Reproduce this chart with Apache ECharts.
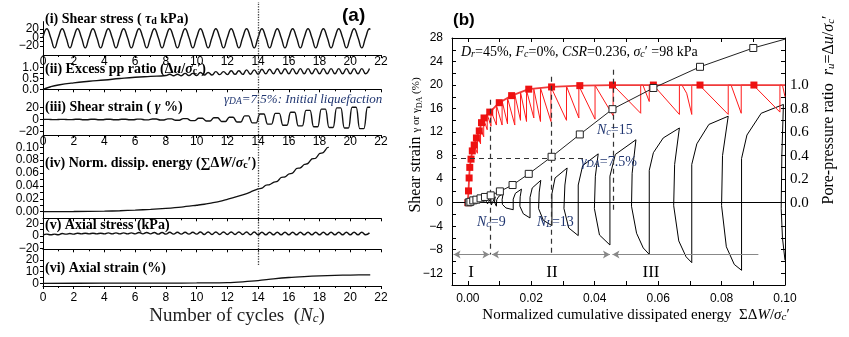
<!DOCTYPE html>
<html>
<head>
<meta charset="utf-8">
<script src="https://cdn.jsdelivr.net/npm/echarts@6/dist/echarts.min.js"></script>
<style>
html,body{margin:0;padding:0;background:#fff}
#chart{width:849px;height:337px}
</style>
</head>
<body>
<div id="chart"></div>
<script>
// ---------- (a) time histories ----------
var tauPeak = [21,21,21,21,21,21,21,21,21,21,21,21,21,21,21,21,21,21,21,21,21,21];
var tauTrough = [-25,-25,-25,-25,-25,-25,-25,-25,-25,-25,-25,-25,-25,-25,-25,-25,-25,-25,-25,-25,-25];

var ppBaseN = [0,0.5,1,2,3,4,5,6,7,8];
var ppBaseV = [0,0.12,0.2,0.3,0.37,0.43,0.5,0.56,0.6,0.64];
var ppUpper = [0.70,0.74,0.78,0.82,0.86,0.90,0.93,0.95,0.96,0.96,0.96,0.96,0.96]; // cycles 8..20
var ppLower = [0.63,0.64,0.66,0.68,0.69,0.70,0.72,0.72,0.72,0.72,0.72,0.72,0.72];

var gamPos = [0.2,0.2,0.3,0.3,0.4,0.5,0.6,0.8,1.0,1.5,2.0,2.8,3.8,6.0,9.0,10,12,15,17,19,20,20];
var gamNeg = [-0.2,-0.2,-0.3,-0.3,-0.4,-0.5,-0.6,-0.8,-1.2,-1.8,-2.5,-3.2,-4.2,-5.5,-7.5,-9.5,-10.5,-12,-13,-14,-15];

var energyN = [0,2,4,5,6,7,8,9,10,10.5,11,11.5,12,12.5,13,13.5,14,14.25,14.5,14.75,15,15.25,15.5,15.75,16,16.25,16.5,16.75,17,17.25,17.5,17.75,18,18.25,18.5,18.6];
var energyV = [0,0.0003,0.0008,0.0014,0.0024,0.0036,0.0052,0.0072,0.0100,0.0115,0.0138,0.0160,0.0192,0.0225,0.0262,0.0305,0.0355,0.0365,0.0410,0.0420,0.0456,0.0470,0.0530,0.0540,0.0585,0.0600,0.0670,0.0680,0.0732,0.0750,0.0820,0.0830,0.0902,0.0920,0.0995,0.1000];

var saUpper = [3,4,4.5,4.5,5,5,5.5,5.5,6,6,6.5,6.5,6.5,6.5,6,6,6,6,6,6,6];
var saLower = [2,3,3.5,3.5,3.5,3.5,3.5,3,3,3,2.5,2.5,2.5,2,2,2,2,2,2,2,2];

var axN = [0,4,8,10,11,12,13,14,15,16,17,18,19,20,21.3];
var axV = [0,0.1,0.2,0.3,0.4,0.6,1.3,2.3,3.8,5.0,5.8,6.4,6.8,7.1,7.3];

// ---------- (b) energy-based plot ----------
var ruSqE = [0,0.0002,0.0004,0.0006,0.0010,0.0014,0.0020,0.0027,0.0036,0.0043,0.0051,0.0069,0.0099,0.0138,0.0192,0.0264,0.0353,0.0456,0.0585,0.0732,0.0902];
var ruSqV = [0,0.10,0.21,0.30,0.37,0.44,0.49,0.55,0.61,0.68,0.72,0.77,0.85,0.91,0.965,0.984,0.995,1.0,1.0,1.0,1.0];

var gdaE = [0.0003,0.0008,0.0017,0.0027,0.0040,0.0054,0.0072,0.0101,0.0141,0.0192,0.0264,0.0353,0.0456,0.0585,0.0732,0.0900];
var gdaV = [0.05,0.15,0.39,0.51,0.73,0.97,1.24,1.92,3.0,4.9,7.8,11.6,15.9,19.5,23.1,26.3];

var ruSaw = [
  [0.0020,0.49],[0.0030,0.42],[0.0030,0.57],[0.0040,0.50],[0.0040,0.63],[0.0050,0.56],[0.0050,0.71],
  [0.0061,0.62],[0.0061,0.75],[0.0073,0.65],[0.0073,0.78],[0.0090,0.66],[0.0090,0.83],[0.0108,0.66],
  [0.0108,0.865],[0.0125,0.67],[0.0125,0.89],[0.0148,0.66],[0.0148,0.92],[0.0166,0.70],[0.0166,0.94],
  [0.0185,0.69],[0.0185,0.955],[0.0208,0.72],[0.0208,0.965],[0.0229,0.69],[0.0229,0.975],[0.0262,0.69],
  [0.0262,0.984],[0.0311,0.70],[0.0311,0.99],[0.0350,0.72],[0.0350,0.994],[0.0401,0.71],[0.0401,0.997],
  [0.0458,0.74],[0.0458,1.0],[0.0545,0.76],[0.0545,1.0],[0.0552,1.0],[0.0572,0.86],[0.0572,1.0],
  [0.0585,1.0],[0.0667,0.75],[0.0667,1.0],[0.0675,1.0],[0.0690,0.93],[0.0706,0.75],[0.0706,1.0],
  [0.0730,1.0],[0.0821,0.75],[0.0821,1.0],[0.0830,1.0],[0.0862,0.76],[0.0862,1.0],[0.0900,1.0],
  [0.0984,0.77],[0.0984,1.0],[0.0992,1.0],[0.1000,0.90]
];

var gammaLoop = [
  [0.0000,0.00],[0.0010,0.05],[0.0020,0.10],[0.0030,-0.05],[0.0040,0.20],[0.0046,-0.10],[0.0056,0.40],
  [0.0062,-0.20],[0.0072,0.70],[0.0074,-0.40],[0.0086,1.00],[0.0084,0.10],[0.0090,-0.60],
  [0.0091,0.50],[0.0098,1.10],[0.0111,1.50],
  [0.0108,0.50],[0.0109,-0.30],[0.0120,-0.90],[0.0143,-1.20],
  [0.0143,0.60],[0.0150,1.60],[0.0169,2.30],
  [0.0165,1.00],[0.0164,-0.60],[0.0175,-1.90],[0.0196,-2.60],
  [0.0196,0.90],[0.0203,2.50],[0.0230,3.80],
  [0.0225,1.80],[0.0223,-1.00],[0.0238,-3.00],[0.0265,-3.90],
  [0.0265,1.50],[0.0275,4.20],[0.0313,5.90],
  [0.0306,3.00],[0.0303,-1.00],[0.0318,-4.30],[0.0348,-5.60],
  [0.0348,3.00],[0.0362,6.30],[0.0411,8.30],
  [0.0402,4.50],[0.0399,-1.00],[0.0415,-5.50],[0.0448,-7.20],
  [0.0448,4.50],[0.0465,8.20],[0.0530,10.70],
  [0.0518,5.00],[0.0516,-0.60],[0.0532,-5.20],[0.0553,-7.70],[0.0572,-8.80],
  [0.0572,5.50],[0.0585,8.50],[0.0616,11.00],[0.0667,12.70],
  [0.0652,6.50],[0.0649,-0.50],[0.0665,-6.50],[0.0688,-9.20],[0.0706,-10.20],
  [0.0706,6.50],[0.0722,10.00],[0.0760,13.30],[0.0821,14.70],
  [0.0803,8.00],[0.0800,-0.50],[0.0815,-7.50],[0.0840,-10.50],[0.0863,-11.50],
  [0.0863,7.50],[0.0880,11.50],[0.0925,15.20],[0.0995,16.70],
  [0.0990,8.00],[0.0988,-1.00],[0.0992,-6.00],[0.1000,-9.80]
];

var SERIF = '"Liberation Serif","DejaVu Serif",serif';
var SANS = '"Liberation Sans",Arial,sans-serif';
var NAVY = '#1f3570';

// build point lists from the readings
var tauData = [];
for (var k = 0; k < tauTrough.length; k++) {
  tauData.push([k, 0], [k + 0.25, tauPeak[k]], [k + 0.5, 0], [k + 0.75, tauTrough[k]]);
}
tauData.push([21, 0], [21.25, tauPeak[21]], [21.3, 19]);

var ppData = ppBaseN.map(function (n, i) { return [n, ppBaseV[i]]; });
for (var k = 0; k < ppUpper.length; k++) {
  var c = 8 + k;
  ppData.push([c + 0.25, ppUpper[k]], [c + 0.5, ppLower[k]], [c + 0.75, ppUpper[k]], [c + 1, ppLower[k]]);
}
ppData.push([21.25, 0.96]);

var gamData = [[0, 0]];
for (var k = 0; k < gamNeg.length; k++) {
  gamData.push([k + 0.12, gamPos[k]], [k + 0.38, gamPos[k]], [k + 0.62, gamNeg[k]], [k + 0.88, gamNeg[k]]);
}
gamData.push([21.12, gamPos[21]], [21.3, gamPos[21]]);

var enData = energyN.map(function (n, i) { return [n, energyV[i]]; });

var saData = [[0, 1.5]];
for (var k = 0; k < saUpper.length; k++) {
  saData.push([k + 0.25, saUpper[k]], [k + 0.5, saLower[k]], [k + 0.75, saUpper[k]], [k + 1, saLower[k]]);
}
saData.push([21.25, 5]);

var axData = axN.map(function (n, i) { return [n, axV[i]]; });

var ruSqData = ruSqE.map(function (e, i) { return [e, ruSqV[i]]; });
ruSqData.push({ value: [0.1, 1.0], symbol: 'none' });

var gdaData = gdaE.map(function (e, i) { return [e, gdaV[i]]; });
gdaData.push({ value: [0.1, 27.8], symbol: 'none' });

function minus(v) { return String(v).replace('-', '\u2212'); }
function fix1(v) { return v.toFixed(1); }
function fix2(v) { return v.toFixed(2); }

// ---------- axes ----------
var A_LEFT = 43, A_W = 338;
function xA(g, showLabel, margin) {
  return {
    type: 'value', gridIndex: g, min: 0, max: 22, interval: 2,
    axisLine: { show: true, onZero: false, lineStyle: { color: '#000', width: 1 } },
    axisTick: { show: true, length: 3, lineStyle: { color: '#000' } },
    minorTick: { show: true, splitNumber: 2, length: 2, lineStyle: { color: '#000' } },
    splitLine: { show: false },
    axisLabel: { show: showLabel, margin: margin, fontSize: 12, fontFamily: SANS, color: '#000', showMinLabel: true, showMaxLabel: true }
  };
}
function yA(g, min, max, labels, ticks, fmt) {
  return {
    type: 'value', gridIndex: g, min: min, max: max,
    axisLine: { show: true, onZero: false, lineStyle: { color: '#000', width: 1 } },
    axisTick: { show: true, length: 3, customValues: ticks, lineStyle: { color: '#000' } },
    splitLine: { show: false },
    axisLabel: { customValues: labels, formatter: fmt, margin: 4, fontSize: 12, fontFamily: SANS, color: '#000', showMinLabel: true, showMaxLabel: true }
  };
}
// second label-only axis in the same grid, so tightly packed labels are not dropped
function yLab(g, min, max, labels, fmt) {
  return {
    type: 'value', gridIndex: g, min: min, max: max, position: 'left',
    axisLine: { show: false, onZero: false }, axisTick: { show: false }, splitLine: { show: false },
    axisLabel: { customValues: labels, formatter: fmt, margin: 4, fontSize: 12, fontFamily: SANS, color: '#000', showMinLabel: true, showMaxLabel: true }
  };
}

var grids = [
  { left: A_LEFT, width: A_W, top: 21.6, height: 33.4 },
  { left: A_LEFT, width: A_W, top: 55, height: 34.3 },
  { left: A_LEFT, width: A_W, top: 89.3, height: 45.7 },
  { left: A_LEFT, width: A_W, top: 135, height: 83.3 },
  { left: A_LEFT, width: A_W, top: 218.3, height: 31 },
  { left: A_LEFT, width: A_W, top: 249.3, height: 36.7 },
  { left: A_LEFT, width: A_W, top: 2, height: 284 },
  { left: 452, width: 333, top: 38, height: 247 }
];

var xAxes = [
  xA(0, true, 1), xA(1, false, 1), xA(2, true, 1), xA(3, false, 1), xA(4, false, 1), xA(5, true, 6),
  { type: 'value', gridIndex: 6, min: 0, max: 22, show: false },
  {
    type: 'value', gridIndex: 7, min: -0.005, max: 0.1,
    axisLine: { show: true, onZero: false, lineStyle: { color: '#000' } },
    axisTick: { show: true, inside: true, length: 4, customValues: [0,0.01,0.02,0.03,0.04,0.05,0.06,0.07,0.08,0.09,0.1], lineStyle: { color: '#000' } },
    splitLine: { show: false },
    axisLabel: { customValues: [0,0.02,0.04,0.06,0.08,0.1], formatter: fix2, margin: 8, fontSize: 12, fontFamily: SANS, color: '#000', showMinLabel: true, showMaxLabel: true }
  },
  {
    type: 'value', gridIndex: 7, min: -0.005, max: 0.1, position: 'top',
    axisLine: { show: true, onZero: false, lineStyle: { color: '#000' } },
    axisTick: { show: true, inside: true, length: 4, customValues: [0,0.01,0.02,0.03,0.04,0.05,0.06,0.07,0.08,0.09,0.1], lineStyle: { color: '#000' } },
    splitLine: { show: false }, axisLabel: { show: false }
  }
];

var yAxes = [
  yA(0, -42, 38, [-20, 20], [-20, -10, 0, 10, 20], minus),
  yA(1, 0, 1.59, [0, 1], [0, 0.25, 0.5, 0.75, 1], fix1),
  yA(2, -25.4, 49.5, [-20, 20], [-20, -10, 0, 10, 20], minus),
  yA(3, -0.0103, 0.1191, [0, 0.02, 0.04, 0.06, 0.08, 0.1], [0,0.01,0.02,0.03,0.04,0.05,0.06,0.07,0.08,0.09,0.1], fix2),
  yA(4, -20.9, 28, [-20, 20], [-20, -10, 0, 10, 20], minus),
  yA(5, -2.3, 29.2, [0, 20], [0, 5, 10, 15, 20], minus),
  { type: 'value', gridIndex: 6, min: 0, max: 1, show: false },
  {
    type: 'value', gridIndex: 7, min: -14, max: 28,
    axisLine: { show: true, onZero: false, lineStyle: { color: '#000' } },
    axisTick: { show: true, inside: true, length: 4, customValues: [-14,-12,-10,-8,-6,-4,-2,0,2,4,6,8,10,12,14,16,18,20,22,24,26,28], lineStyle: { color: '#000' } },
    splitLine: { show: false },
    axisLabel: { customValues: [-12,-8,-4,0,4,8,12,16,20,24,28], formatter: minus, margin: 9, fontSize: 12, fontFamily: SANS, color: '#000', showMinLabel: true, showMaxLabel: true }
  },
  {
    type: 'value', gridIndex: 7, min: -0.7, max: 1.4, position: 'right',
    axisLine: { show: true, onZero: false, lineStyle: { color: '#000' } },
    axisTick: { show: true, inside: true, length: 4, customValues: [-0.6,-0.5,-0.4,-0.3,-0.2,-0.1,0,0.1,0.2,0.3,0.4,0.5,0.6,0.7,0.8,0.9,1.0,1.1,1.2,1.3,1.4], lineStyle: { color: '#000' } },
    splitLine: { show: false },
    axisLabel: { customValues: [0, 0.2, 0.4, 0.6, 0.8, 1.0], formatter: fix1, margin: 5, fontSize: 15, fontFamily: SERIF, color: '#000', showMinLabel: true, showMaxLabel: true }
  },
  yLab(0, -42, 38, [0], minus),
  yLab(1, 0, 1.59, [0.5], fix1),
  yLab(2, -25.4, 49.5, [0], minus),
  yLab(4, -20.9, 28, [0], minus),
  yLab(5, -2.3, 29.2, [10], minus)
];

function ln(xi, yi, data, color, width, extra) {
  var s = {
    type: 'line', xAxisIndex: xi, yAxisIndex: yi, data: data, showSymbol: false,
    lineStyle: { color: color, width: width }, itemStyle: { color: color }, z: 3
  };
  for (var key in extra) s[key] = extra[key];
  return s;
}

// ---------- text helpers ----------
function rt(x, y, text, rich, base, extra) {
  var style = {
    text: text, rich: rich, fill: '#000',
    fontFamily: SERIF, fontSize: 14,
    align: 'left', verticalAlign: 'middle', textAlign: 'left', textVerticalAlign: 'middle'
  };
  for (var key in base) style[key] = base[key];
  var el = { type: 'text', x: x, y: y, z: 100, style: style, silent: true };
  for (var key2 in extra) el[key2] = extra[key2];
  return el;
}
function tok(size, opt) {
  var o = { fontFamily: SERIF, fontSize: size };
  for (var key in opt) o[key] = opt[key];
  if (o.fill) o.color = o.fill;
  return o;
}

var titleRich = {
  b: tok(14, { fontWeight: 'bold' }),
  bi: tok(14, { fontWeight: 'bold', fontStyle: 'italic' }),
  bs: tok(10, { fontWeight: 'bold', verticalAlign: 'bottom' })
};
var navyRich = {
  n: tok(14, { fill: NAVY }),
  i: tok(14, { fill: NAVY, fontStyle: 'italic' }),
  s: tok(10, { fill: NAVY, fontStyle: 'italic', verticalAlign: 'bottom' })
};

var graphics = [
  rt(45, 19, '{b|(i) Shear stress ( }{bi|\u03c4}{bs|d}{b| kPa)}', titleRich),
  rt(45, 69, '{b|(ii) Excess pp ratio (\u0394}{bi|u}{b|/}{bi|\u03c3}{bs|c}{b|\u2032)}', titleRich),
  rt(45, 107, '{b|(iii) Shear strain ( }{bi|\u03b3}{b| %)}', titleRich),
  rt(45, 163, '{b|(iv) Norm. dissip. energy (\u2211\u0394}{bi|W}{b|/}{bi|\u03c3}{bs|c}{b|\u2032)}', titleRich),
  rt(45, 225, '{b|(v) Axial stress (kPa)}', titleRich),
  rt(45, 268, '{b|(vi) Axial strain (%)}', titleRich),
  rt(342, 16, '(a)', null, { fontFamily: SANS, fontSize: 19, fontWeight: 'bold' }),
  rt(224, 100, '{i|\u03b3}{s|DA}{i|=7.5%: Initial liquefaction}', {
    i: tok(13, { fill: NAVY, fontStyle: 'italic' }),
    s: tok(9.5, { fill: NAVY, fontStyle: 'italic', verticalAlign: 'bottom' })
  }),
  rt(237, 316, '{n|Number of cycles  (}{i|N}{s|c}{n|)}', {
    n: tok(19, { fill: '#222' }),
    i: tok(19, { fill: '#222', fontStyle: 'italic' }),
    s: tok(13, { fill: '#222', fontStyle: 'italic', verticalAlign: 'bottom' })
  }, { align: 'center', textAlign: 'center' }),

  rt(453, 20, '(b)', null, { fontFamily: SANS, fontSize: 17, fontWeight: 'bold' }),
  rt(461, 52, '{i|D}{s|r}{n|=45%, }{i|F}{s|c}{n|=0%, }{i|CSR}{n|=0.236, }{i|\u03c3}{s|c}{n|\u2032 =98 kPa}', {
    n: tok(14, {}), i: tok(14, { fontStyle: 'italic' }), s: tok(10, { fontStyle: 'italic', verticalAlign: 'bottom' })
  }),
  rt(477, 222, '{i|N}{s|c}{n|=9}', navyRich),
  rt(537, 222, '{i|N}{s|L}{n|=13}', navyRich),
  rt(597, 130, '{i|N}{s|c}{n|=15}', navyRich),
  rt(581, 162, '{i|\u03b3}{s|DA}{n|=7.5%}', navyRich),
  rt(471, 273, 'I', null, { fontSize: 17, align: 'center', textAlign: 'center' }),
  rt(552, 273, 'II', null, { fontSize: 17, align: 'center', textAlign: 'center' }),
  rt(651, 273, 'III', null, { fontSize: 17, align: 'center', textAlign: 'center' }),
  rt(636, 315, '{n|Normalized cumulative dissipated energy  \u03a3\u0394}{i|W}{n|/}{i|\u03c3}{s|c}{n|\u2032}', {
    n: tok(15, {}), i: tok(15, { fontStyle: 'italic' }), s: tok(11, { fontStyle: 'italic', verticalAlign: 'bottom' })
  }, { align: 'center', textAlign: 'center' }),
  rt(416, 145, '{n|Shear strain }{m|\u03b3 or \u03b3}{s|DA}{m| (%)}', {
    n: tok(16, {}), m: tok(11, {}), s: tok(8, { verticalAlign: 'bottom' })
  }, { align: 'center', textAlign: 'center' }, { rotation: Math.PI / 2 }),
  rt(829, 110, '{n|Pore-pressure ratio  }{i|r}{s|u}{n|=\u0394}{i|u}{n|/}{i|\u03c3}{s|c}{n|\u2032}', {
    n: tok(16, {}), i: tok(16, { fontStyle: 'italic' }), s: tok(11, { fontStyle: 'italic', verticalAlign: 'bottom' })
  }, { align: 'center', textAlign: 'center' }, { rotation: Math.PI / 2 })
];

var dash = { type: [5, 4], color: '#333', width: 1.2 };

var option = {
  animation: false,
  backgroundColor: '#fff',
  grid: grids,
  xAxis: xAxes,
  yAxis: yAxes,
  graphic: graphics,
  series: [
    ln(0, 0, tauData, '#111', 1.4, { smooth: 0.5 }),
    ln(1, 1, ppData, '#111', 1.4, { smooth: 0.5 }),
    ln(2, 2, gamData, '#111', 1.4, { smooth: 0.3 }),
    ln(3, 3, enData, '#111', 1.3, { smooth: 0.3 }),
    ln(4, 4, saData, '#111', 1.4, { smooth: 0.5 }),
    ln(5, 5, axData, '#111', 1.3, { smooth: 0.3 }),
    ln(6, 6, [], '#000', 1, {
      markLine: {
        silent: true, symbol: 'none', label: { show: false },
        lineStyle: { type: 'dotted', color: '#444', width: 1.3 },
        data: [[{ coord: [14, 0.074] }, { coord: [14, 1] }]]
      }
    }),
    ln(7, 7, [], '#000', 1, {
      markLine: {
        silent: true, symbol: 'none', label: { show: false },
        lineStyle: dash,
        data: [
          [{ coord: [0.0072, 17.5] }, { coord: [0.0072, -8.8] }],
          [{ coord: [0.0262, 21.4] }, { coord: [0.0262, -8.6] }],
          [{ coord: [0.0457, 22.6] }, { coord: [0.0457, -1.7] }],
          [{ coord: [-0.005, 7.5] }, { coord: [0.0374, 7.5] }],
          [{ coord: [-0.005, 0], lineStyle: { type: 'solid', color: '#000', width: 1.2 } }, { coord: [0.1, 0] }]
        ]
      }
    }),
    ln(7, 7, [], '#000', 1, {
      markLine: {
        silent: true, symbol: ['arrow', 'arrow'], symbolSize: [6, 7], label: { show: false },
        lineStyle: { type: 'solid', color: '#888', width: 1 },
        data: [
          [{ coord: [-0.0045, -8.8] }, { coord: [0.0068, -8.8] }],
          [{ coord: [0.0076, -8.8] }, { coord: [0.0448, -8.8] }],
          [{ coord: [0.0456, -8.8] }, { coord: [0.0916, -8.8], symbol: 'none' }]
        ]
      }
    }),
    ln(7, 7, gammaLoop, '#000', 1, {}),
    ln(7, 8, ruSaw, '#ff1a1a', 1, {}),
    ln(7, 8, ruSqData, '#f03a3a', 1.8, { showSymbol: true, symbol: 'rect', symbolSize: 7, itemStyle: { color: '#ee1111' }, z: 4 }),
    ln(7, 7, gdaData, '#222', 1, {
      showSymbol: true, symbol: 'rect', symbolSize: 7,
      itemStyle: { color: '#fff', borderColor: '#222', borderWidth: 1 }, z: 5
    })
  ]
};

var chart = echarts.init(document.getElementById('chart'));
chart.setOption(option);
</script>
</body>
</html>
